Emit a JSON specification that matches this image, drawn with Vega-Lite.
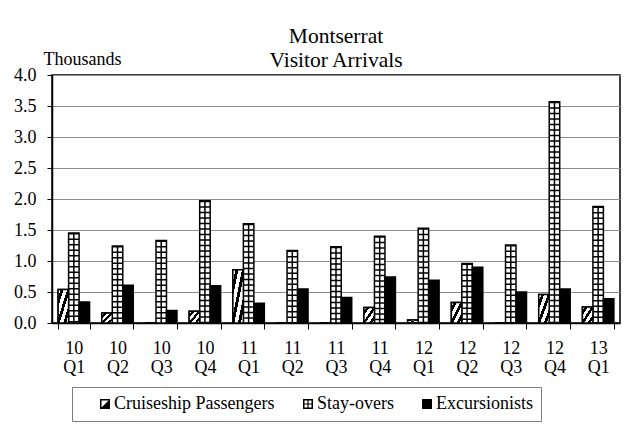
{
  "$schema": "https://vega.github.io/schema/vega-lite/v6.json",
  "width": 568,
  "height": 248,
  "autosize": "none",
  "padding": {"left": 52, "top": 75, "right": 6, "bottom": 101},
  "background": "white",
  "title": {
    "text": ["Montserrat", "Visitor Arrivals"],
    "font": "Liberation Serif",
    "fontSize": 21.5,
    "fontWeight": "normal",
    "color": "black",
    "anchor": "middle",
    "frame": "group",
    "lineHeight": 24,
    "offset": -21
  },
  "config": {
    "font": "Liberation Serif",
    "view": {"stroke": "black", "strokeWidth": 1.5},
    "legend": {"labelFont": "Liberation Serif", "titleFont": "Liberation Serif"}
  },
  "data": {
    "values": [
      {"period": "10 Q1", "series": "Cruiseship Passengers", "value": 0.54},
      {"period": "10 Q1", "series": "Stay-overs", "value": 1.45},
      {"period": "10 Q1", "series": "Excursionists", "value": 0.34},
      {"period": "10 Q2", "series": "Cruiseship Passengers", "value": 0.16},
      {"period": "10 Q2", "series": "Stay-overs", "value": 1.24},
      {"period": "10 Q2", "series": "Excursionists", "value": 0.61},
      {"period": "10 Q3", "series": "Cruiseship Passengers", "value": 0},
      {"period": "10 Q3", "series": "Stay-overs", "value": 1.33},
      {"period": "10 Q3", "series": "Excursionists", "value": 0.2},
      {"period": "10 Q4", "series": "Cruiseship Passengers", "value": 0.19},
      {"period": "10 Q4", "series": "Stay-overs", "value": 1.97},
      {"period": "10 Q4", "series": "Excursionists", "value": 0.6},
      {"period": "11 Q1", "series": "Cruiseship Passengers", "value": 0.86},
      {"period": "11 Q1", "series": "Stay-overs", "value": 1.6},
      {"period": "11 Q1", "series": "Excursionists", "value": 0.32},
      {"period": "11 Q2", "series": "Cruiseship Passengers", "value": 0},
      {"period": "11 Q2", "series": "Stay-overs", "value": 1.17},
      {"period": "11 Q2", "series": "Excursionists", "value": 0.55},
      {"period": "11 Q3", "series": "Cruiseship Passengers", "value": 0},
      {"period": "11 Q3", "series": "Stay-overs", "value": 1.23},
      {"period": "11 Q3", "series": "Excursionists", "value": 0.41},
      {"period": "11 Q4", "series": "Cruiseship Passengers", "value": 0.25},
      {"period": "11 Q4", "series": "Stay-overs", "value": 1.4},
      {"period": "11 Q4", "series": "Excursionists", "value": 0.74},
      {"period": "12 Q1", "series": "Cruiseship Passengers", "value": 0.05},
      {"period": "12 Q1", "series": "Stay-overs", "value": 1.53},
      {"period": "12 Q1", "series": "Excursionists", "value": 0.69},
      {"period": "12 Q2", "series": "Cruiseship Passengers", "value": 0.33},
      {"period": "12 Q2", "series": "Stay-overs", "value": 0.96},
      {"period": "12 Q2", "series": "Excursionists", "value": 0.9},
      {"period": "12 Q3", "series": "Cruiseship Passengers", "value": 0},
      {"period": "12 Q3", "series": "Stay-overs", "value": 1.26},
      {"period": "12 Q3", "series": "Excursionists", "value": 0.5},
      {"period": "12 Q4", "series": "Cruiseship Passengers", "value": 0.46},
      {"period": "12 Q4", "series": "Stay-overs", "value": 3.57},
      {"period": "12 Q4", "series": "Excursionists", "value": 0.55},
      {"period": "13 Q1", "series": "Cruiseship Passengers", "value": 0.26},
      {"period": "13 Q1", "series": "Stay-overs", "value": 1.88},
      {"period": "13 Q1", "series": "Excursionists", "value": 0.39}
    ]
  },
  "encoding": {
    "x": {
      "field": "period",
      "type": "nominal",
      "sort": null,
      "scale": {"paddingInner": 0.28, "paddingOuter": 0.14},
      "axis": {
        "title": null,
        "labelAngle": 0,
        "tickBand": "extent",
        "tickSize": 6,
        "tickColor": "black",
        "tickWidth": 1,
        "domainColor": "black",
        "domainWidth": 1.5,
        "labelFont": "Liberation Serif",
        "labelFontSize": 18,
        "labelColor": "black",
        "labelExpr": "split(datum.label, ' ')",
        "labelLineHeight": 19.5,
        "labelPadding": 10,
        "grid": false
      }
    },
    "xOffset": {
      "field": "series",
      "type": "nominal",
      "scale": {"domain": ["Cruiseship Passengers", "Stay-overs", "Excursionists"], "paddingInner": 0, "paddingOuter": 0}
    },
    "y": {
      "field": "value",
      "type": "quantitative",
      "scale": {"domain": [0, 4], "nice": false},
      "axis": {
        "values": [0, 0.5, 1, 1.5, 2, 2.5, 3, 3.5, 4],
        "format": ".1f",
        "title": "Thousands",
        "titleAngle": 0,
        "titleX": -9,
        "titleY": -11,
        "titleAlign": "left",
        "titleBaseline": "alphabetic",
        "titleFont": "Liberation Serif",
        "titleFontSize": 18,
        "titleFontWeight": "normal",
        "titleColor": "black",
        "labelFont": "Liberation Serif",
        "labelFontSize": 18,
        "labelColor": "black",
        "tickSize": 5,
        "tickColor": "black",
        "labelPadding": 11,
        "gridColor": "#8c8c8c",
        "gridWidth": 1,
        "domainColor": "black",
        "domainWidth": 1.5
      }
    }
  },
  "layer": [
    {
      "mark": {"type": "bar", "stroke": "black", "strokeWidth": 1.5},
      "encoding": {
        "fill": {
          "condition": {"test": "datum.series == 'Excursionists'", "value": "black"},
          "value": "white"
        }
      }
    },
    {
      "transform": [{"filter": "datum.series == 'Cruiseship Passengers'"}],
      "mark": {
        "type": "bar",
        "stroke": "black",
        "strokeWidth": 1.5,
        "fill": {
          "gradient": "linear",
          "x1": 0, "y1": 0, "x2": 1, "y2": 1,
          "stops": [
            {"offset": 0, "color": "white"},
            {"offset": 0.12, "color": "white"},
            {"offset": 0.12, "color": "black"},
            {"offset": 0.26, "color": "black"},
            {"offset": 0.26, "color": "white"},
            {"offset": 0.43, "color": "white"},
            {"offset": 0.43, "color": "black"},
            {"offset": 0.57, "color": "black"},
            {"offset": 0.57, "color": "white"},
            {"offset": 0.74, "color": "white"},
            {"offset": 0.74, "color": "black"},
            {"offset": 0.88, "color": "black"},
            {"offset": 0.88, "color": "white"},
            {"offset": 1, "color": "white"}
          ]
        }
      },
      "encoding": {}
    },
    {
      "transform": [{"filter": "datum.series == 'Stay-overs'"}],
      "mark": {"type": "rule", "stroke": "black", "strokeWidth": 10, "strokeDash": [1.5, 4], "strokeCap": "butt"},
      "encoding": {"y2": {"datum": 0}}
    },
    {
      "transform": [{"filter": "datum.series == 'Stay-overs'"}],
      "mark": {"type": "rule", "stroke": "black", "strokeWidth": 1.5},
      "encoding": {"y2": {"datum": 0}}
    },
    {
      "mark": {"type": "point", "filled": true, "color": "black", "opacity": 0, "size": 1},
      "encoding": {
        "shape": {
          "field": "series",
          "type": "nominal",
          "scale": {
            "domain": ["Cruiseship Passengers", "Stay-overs", "Excursionists"],
            "range": [
              "M-1,-1H1V1H-1Z M-0.7,-0.7V0.7H0.7V-0.7Z M1,-1L1,1L-1,1Z",
              "M-1,-1H1V1H-1Z M-0.7,-0.7V0.7H0.7V-0.7Z M-0.12,-0.7H0.12V0.7H-0.12Z M-0.7,-0.12H0.7V0.12H-0.7Z",
              "square"
            ]
          },
          "legend": {
            "title": null,
            "orient": "none",
            "legendX": 20,
            "legendY": 312,
            "direction": "horizontal",
            "strokeColor": "#7f7f7f",
            "padding": 8,
            "labelFont": "Liberation Serif",
            "labelFontSize": 18,
            "labelColor": "black",
            "labelLimit": 0,
            "symbolSize": 100,
            "symbolOpacity": 1,
            "symbolFillColor": "black",
            "symbolStrokeWidth": 0,
            "symbolOffset": 16,
            "labelOffset": 0,
            "columnPadding": 8
          }
        }
      }
    }
  ]
}
